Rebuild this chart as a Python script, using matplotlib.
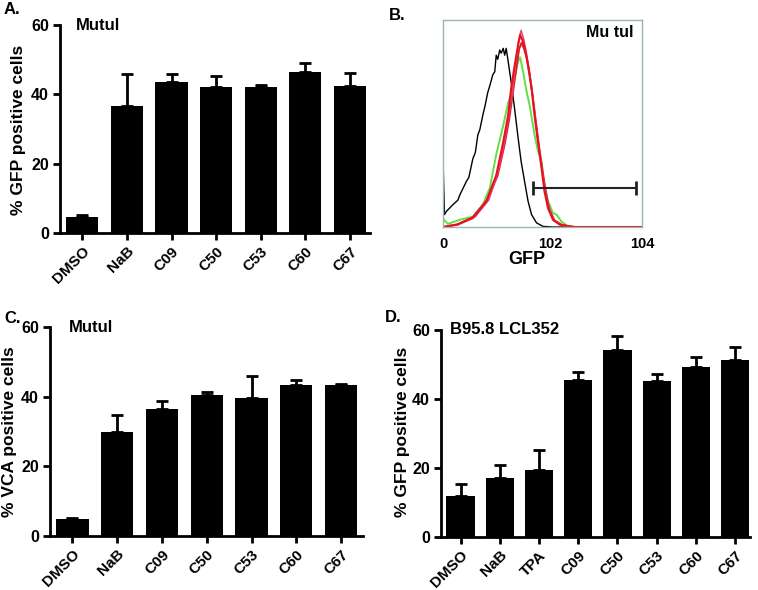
import numpy as np
import matplotlib
matplotlib.use('Agg')
from matplotlib import pyplot as plt

plt.rcParams['font.family'] = ['Liberation Sans', 'DejaVu Sans']
plt.rcParams['font.weight'] = 'bold'

W, H = 758, 590

# Panel A - Mutul GFP
cats_a = ['DMSO', 'NaB', 'C09', 'C50', 'C53', 'C60', 'C67']
gfp_a = [4.5, 36.5, 43.7, 42.2, 42.0, 46.5, 42.5]
gfp_a_top = [5.2, 46.0, 45.8, 45.3, 42.6, 49.0, 46.2]

# Panel C - Mutul VCA
cats_c = ['DMSO', 'NaB', 'C09', 'C50', 'C53', 'C60', 'C67']
vca_c = [4.8, 30.0, 36.5, 40.5, 39.5, 43.3, 43.3]
vca_c_top = [5.2, 34.8, 38.7, 41.3, 46.0, 44.8, 43.6]

# Panel D - B95.8 LCL352 GFP
cats_d = ['DMSO', 'NaB', 'TPA', 'C09', 'C50', 'C53', 'C60', 'C67']
gfp_d = [12.0, 17.0, 19.5, 45.5, 54.3, 45.3, 49.3, 51.2]
gfp_d_top = [15.3, 20.8, 25.3, 47.8, 58.3, 47.3, 52.3, 55.2]

# Panel B - flow histograms (x in log decades, y in % of frame height)
black_x = [0, 0, 0.03, 0.07, 0.2, 0.3, 0.34, 0.47, 0.52, 0.6, 0.65, 0.7, 0.74,
           0.8, 0.84, 0.9, 0.95, 1.0, 1.04, 1.07, 1.1, 1.14, 1.17, 1.21, 1.24,
           1.27, 1.31, 1.37, 1.44, 1.51, 1.57, 1.64, 1.71, 1.78, 1.88, 2.01,
           2.21, 4.0]
black_y = [0, 33, 6, 7.6, 10.8, 13, 15.6, 22, 24, 33, 36, 44.5, 47,
           54, 58, 65, 69, 73.5, 75, 83, 81, 85.5, 84, 86.3, 83,
           86.3, 80, 70, 57, 43, 31.7, 22, 12.4, 6, 2, 0.3,
           0, 0]
red_x = [0, 0.27, 0.6, 0.87, 1.07, 1.21, 1.31, 1.37, 1.44, 1.51, 1.55, 1.61,
         1.66, 1.71, 1.78, 1.84, 1.91, 1.98, 2.04, 2.11, 2.21, 2.35, 2.61, 4.0]
red_y = [0, 1.1, 4.3, 12.4, 25, 41, 54, 67, 78, 88, 92.8, 89.5,
         84.7, 78, 67, 54, 41, 28.5, 17.2, 9.2, 3.5, 1.1, 0, 0]
red2_x = [0, 0.3, 0.6, 0.9, 1.1, 1.24, 1.33, 1.4, 1.47, 1.53, 1.58, 1.63,
          1.68, 1.74, 1.8, 1.86, 1.93, 2.0, 2.07, 2.14, 2.24, 2.4, 2.65, 4.0]
red2_y = [0, 1.3, 4.8, 13.5, 25, 40, 52, 64, 76, 86, 89, 86,
          82, 74, 64, 52, 39, 27, 16.5, 8.5, 3.2, 0.9, 0, 0]
pink_x = [0, 0.3, 0.65, 0.92, 1.1, 1.22, 1.32, 1.4, 1.46, 1.52, 1.57, 1.62,
          1.67, 1.73, 1.79, 1.86, 1.92, 1.99, 2.06, 2.13, 2.23, 2.38, 2.6, 4.0]
pink_y = [0, 1.0, 5.0, 13, 26, 39, 53, 66, 79, 90, 95, 91,
          85, 76, 65, 52, 40, 28, 16, 8.5, 3.0, 1.0, 0, 0]
green_x = [0, 0.1, 0.34, 0.6, 0.8, 0.94, 1.07, 1.21, 1.31, 1.37, 1.44, 1.51,
           1.55, 1.61, 1.68, 1.74, 1.84, 1.91, 1.98, 2.04, 2.11, 2.21, 2.28,
           2.38, 2.51, 2.68, 4.0]
green_y = [4, 1.5, 3.5, 5, 10.8, 18.8, 35, 49, 60, 64, 72, 80,
           82, 75, 65.4, 59, 44.5, 36.5, 31.7, 20.4, 12.4, 6.8, 6,
           2.7, 0.3, 0, 0]
gate = [1.8, 3.88]
gate_h = 18.8


def px_axes(fig, left, right, top, bottom):
    return fig.add_axes([left / W, (H - bottom) / H, (right - left) / W, (bottom - top) / H])


def bar_panel(ax, cats, vals, tops, xmax):
    x = np.arange(len(cats))
    err = [t - v for t, v in zip(tops, vals)]
    ax.bar(x, vals, width=0.72, color='black', zorder=2)
    ax.errorbar(x, vals, yerr=[[0] * len(vals), err], fmt='none', ecolor='black',
                elinewidth=2, capsize=4.5, capthick=2, zorder=1)
    ax.set_xlim(-0.5, xmax)
    ax.set_ylim(0, 60)
    ax.set_yticks([0, 20, 40, 60])
    ax.set_xticks(x)
    ax.set_xticklabels(cats, rotation=45, ha='right', rotation_mode='anchor')
    for s in ['top', 'right']:
        ax.spines[s].set_visible(False)
    for s in ['left', 'bottom']:
        ax.spines[s].set_linewidth(2)
    ax.tick_params(width=2, length=5, pad=3)
    ax.tick_params(axis='y', labelsize=11.5)
    ax.tick_params(axis='x', labelsize=11)
    for lab in ax.get_xticklabels() + ax.get_yticklabels():
        lab.set_fontweight('bold')


fig = plt.figure(figsize=(W / 100, H / 100), dpi=100)

ax_a = px_axes(fig, 60, 370, 25, 233)
bar_panel(ax_a, cats_a, gfp_a, gfp_a_top, 6.45)
ax_a.text(0.05, 1.0, 'Mutul', transform=ax_a.transAxes, fontsize=12,
          fontweight='bold', va='center', ha='left')

ax_c = px_axes(fig, 50, 363, 327, 536)
bar_panel(ax_c, cats_c, vca_c, vca_c_top, 6.49)
ax_c.text(0.06, 1.0, 'Mutul', transform=ax_c.transAxes, fontsize=12,
          fontweight='bold', va='center', ha='left')

ax_d = px_axes(fig, 441, 750, 330, 537)
bar_panel(ax_d, cats_d, gfp_d, gfp_d_top, 7.38)
ax_d.text(0.03, 1.0, 'B95.8 LCL352', transform=ax_d.transAxes, fontsize=12,
          fontweight='bold', va='center', ha='left')

# Panel B histogram
ax_b = px_axes(fig, 443, 642, 20, 227)
ax_b.plot(black_x, black_y, color='black', lw=1.0)
ax_b.plot(green_x, green_y, color='#66dd44', lw=1.4)
ax_b.plot(red2_x, red2_y, color='#d81e2a', lw=1.4)
ax_b.plot(pink_x, pink_y, color='#e8407a', lw=1.1)
ax_b.plot(red_x, red_y, color='#e4141e', lw=1.5)
ax_b.errorbar([sum(gate) / 2], [gate_h], xerr=[[(gate[1] - gate[0]) / 2]], fmt='none',
              ecolor='#222222', elinewidth=1.5, capsize=5, capthick=2)
ax_b.set_xlim(0, 4)
ax_b.set_ylim(0, 100)
ax_b.set_xticks([0, 2.15, 4])
ax_b.set_xticklabels(['0', '102', '104'])
ax_b.set_yticks([])
ax_b.tick_params(length=0, labelsize=10.5, pad=7)
for lab in ax_b.get_xticklabels():
    lab.set_fontweight('bold')
for s in ax_b.spines.values():
    s.set_color('#9fb3b3')
    s.set_linewidth(1)
ax_b.text(0.84, 0.94, 'Mu tul', transform=ax_b.transAxes, fontsize=11.5,
          fontweight='bold', ha='center', va='center')
fig.text(527 / W, 1 - 260 / H, 'GFP', fontsize=13, fontweight='bold',
         ha='center', va='center')

# y labels
fig.text(18.5 / W, 1 - 130 / H, '% GFP positive cells', rotation=90, fontsize=12.5,
         fontweight='bold', ha='center', va='center')
fig.text(10 / W, 1 - 432 / H, '% VCA positive cells', rotation=90, fontsize=12.5,
         fontweight='bold', ha='center', va='center')
fig.text(403 / W, 1 - 432 / H, '% GFP positive cells', rotation=90, fontsize=12.5,
         fontweight='bold', ha='center', va='center')

# panel labels
fig.text(4 / W, 1 - 10 / H, 'A.', fontsize=12, fontweight='bold', ha='left', va='center')
fig.text(389 / W, 1 - 15 / H, 'B.', fontsize=12, fontweight='bold', ha='left', va='center')
fig.text(4 / W, 1 - 318 / H, 'C.', fontsize=12, fontweight='bold', ha='left', va='center')
fig.text(385 / W, 1 - 317 / H, 'D.', fontsize=12, fontweight='bold', ha='left', va='center')

fig.savefig('out.png', dpi=100)
